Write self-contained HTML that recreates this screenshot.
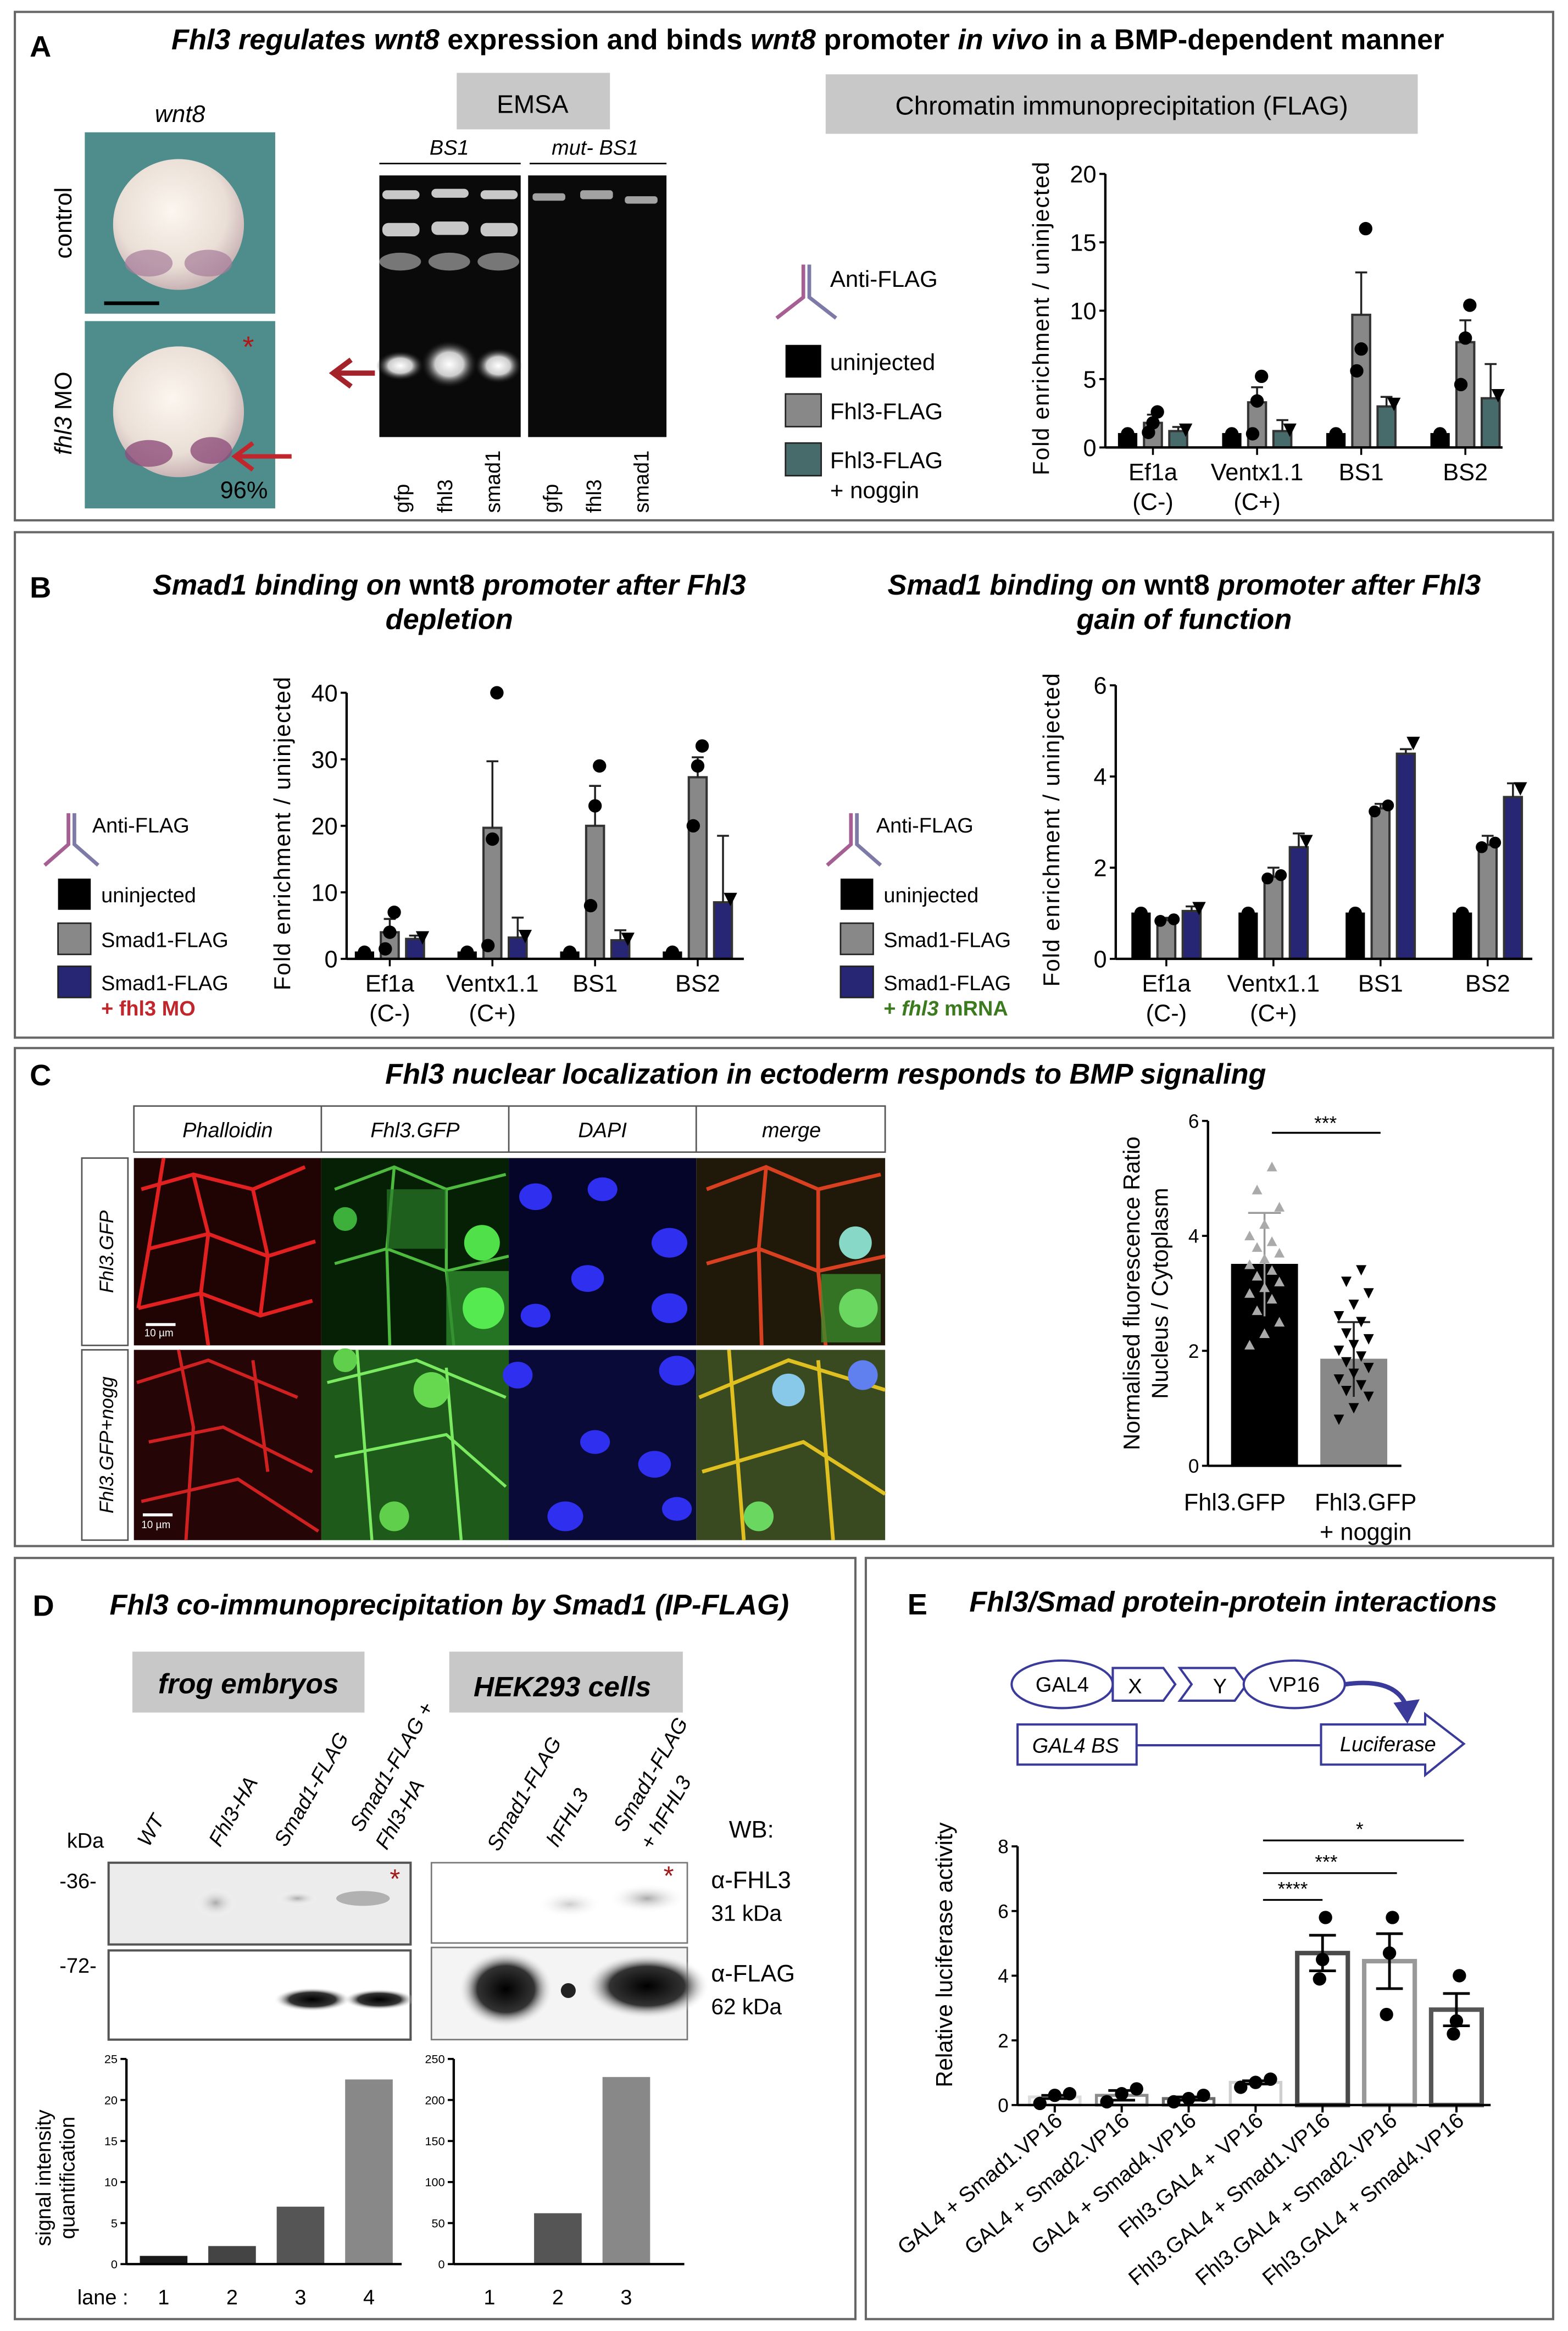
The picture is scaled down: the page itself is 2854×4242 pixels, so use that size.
<!DOCTYPE html>
<html><head><meta charset="utf-8"><style>
html,body{margin:0;padding:0;background:#fff}
svg{display:block;font-family:"Liberation Sans",sans-serif}
</style></head><body>
<svg id="fig" xmlns="http://www.w3.org/2000/svg" width="2854" height="4242" viewBox="0 0 1054 1568" preserveAspectRatio="none">
<defs>
<radialGradient id="egg" cx="0.45" cy="0.4" r="0.6"><stop offset="0" stop-color="#fbf6ef"/><stop offset="0.7" stop-color="#eadfd6"/><stop offset="1" stop-color="#c9b3b5"/></radialGradient>
<radialGradient id="gband"><stop offset="0" stop-color="#fff"/><stop offset="0.5" stop-color="#ccc"/><stop offset="1" stop-color="#111" stop-opacity="0"/></radialGradient>
<radialGradient id="dband"><stop offset="0" stop-color="#000"/><stop offset="0.6" stop-color="#333"/><stop offset="1" stop-color="#fff" stop-opacity="0"/></radialGradient>
<radialGradient id="lband"><stop offset="0" stop-color="#aaa"/><stop offset="1" stop-color="#fff" stop-opacity="0"/></radialGradient>
</defs>

<!-- Panel boxes -->
<rect x="10" y="8" width="1034" height="342" fill="none" stroke="#666" stroke-width="1.5"/>
<rect x="10" y="358" width="1034" height="340" fill="none" stroke="#666" stroke-width="1.5"/>
<rect x="10" y="705" width="1034" height="335" fill="none" stroke="#666" stroke-width="1.5"/>
<rect x="10" y="1048" width="565" height="512" fill="none" stroke="#666" stroke-width="1.5"/>
<rect x="582" y="1048" width="462" height="512" fill="none" stroke="#666" stroke-width="1.5"/>

<!-- Panel A -->
<text x="20" y="38" font-size="20" font-weight="bold">A</text>
<text x="543" y="33" font-size="19.3" font-weight="bold" text-anchor="middle"><tspan font-style="italic">Fhl3 regulates wnt8</tspan> expression and binds <tspan font-style="italic">wnt8</tspan> promoter <tspan font-style="italic">in vivo</tspan> in a BMP-dependent manner</text>
<text x="121" y="82" font-size="16" font-style="italic" text-anchor="middle">wnt8</text>
<g>
<rect x="57" y="89" width="128" height="122" fill="#4e8d8c"/>
<circle cx="120" cy="151" r="44" fill="url(#egg)"/>
<ellipse cx="100" cy="177" rx="16" ry="9" fill="#a77c9a" opacity="0.7"/><ellipse cx="140" cy="177" rx="16" ry="9" fill="#a77c9a" opacity="0.7"/>
<line x1="70" y1="204" x2="107" y2="204" stroke="#000" stroke-width="2.5"/>
</g>
<g>
<rect x="57" y="216" width="128" height="126" fill="#4e8d8c"/>
<circle cx="120" cy="277" r="44" fill="url(#egg)"/>
<ellipse cx="100" cy="305" rx="16" ry="9" fill="#8e4f7c" opacity="0.8"/><ellipse cx="142" cy="303" rx="14" ry="9" fill="#8e4f7c" opacity="0.8"/>
<text x="163" y="240" font-size="20" fill="#b01818">*</text>
<path d="M196 307 L160 307 M170 298 L158 307 L170 316" stroke="#c0262c" stroke-width="3" fill="none"/>
<text x="180" y="335" font-size="16" text-anchor="end">96%</text>
</g>
<text transform="translate(48,150) rotate(-90)" font-size="16" text-anchor="middle">control</text>
<text transform="translate(48,278) rotate(-90)" font-size="16" text-anchor="middle"><tspan font-style="italic">fhl3</tspan> MO</text>

<rect x="307" y="49" width="103" height="38" fill="#c8c8c8"/>
<text x="358" y="76" font-size="17" text-anchor="middle">EMSA</text>
<text x="302" y="104" font-size="14" font-style="italic" text-anchor="middle">BS1</text>
<text x="400" y="104" font-size="14" font-style="italic" text-anchor="middle">mut- BS1</text>
<line x1="255" y1="110" x2="350" y2="110" stroke="#000"/><line x1="356" y1="110" x2="448" y2="110" stroke="#000"/>
<g>
<rect x="255" y="118" width="95" height="176" fill="#0a0a0a"/><rect x="355" y="118" width="93" height="176" fill="#0a0a0a"/>
<g fill="#ddd" opacity="0.9">
<rect x="257" y="128" width="25" height="6" rx="3"/><rect x="290" y="127" width="25" height="6" rx="3"/><rect x="323" y="128" width="25" height="6" rx="3"/>
<rect x="257" y="150" width="25" height="9" rx="4"/><rect x="290" y="149" width="25" height="9" rx="4"/><rect x="323" y="150" width="25" height="9" rx="4"/>
<rect x="358" y="130" width="22" height="5" rx="2" opacity="0.8"/><rect x="390" y="128" width="22" height="6" rx="2" opacity="0.8"/><rect x="420" y="132" width="22" height="5" rx="2" opacity="0.8"/>
</g>
<ellipse cx="269" cy="176" rx="14" ry="6" fill="#777"/><ellipse cx="302" cy="176" rx="14" ry="6" fill="#777"/><ellipse cx="335" cy="176" rx="14" ry="6" fill="#777"/>
<ellipse cx="269" cy="246" rx="16" ry="10" fill="url(#gband)"/><ellipse cx="302" cy="245" rx="19" ry="16" fill="url(#gband)"/><ellipse cx="335" cy="246" rx="16" ry="12" fill="url(#gband)"/>
</g>
<path d="M252 251 L226 251 M236 242 L224 251 L236 260" stroke="#a4222a" stroke-width="3.5" fill="none"/>
<g font-size="14">
<text transform="translate(275,345) rotate(-90)">gfp</text><text transform="translate(304,345) rotate(-90)">fhl3</text><text transform="translate(336,345) rotate(-90)">smad1</text>
<text transform="translate(375,345) rotate(-90)">gfp</text><text transform="translate(404,345) rotate(-90)">fhl3</text><text transform="translate(436,345) rotate(-90)">smad1</text>
</g>
<rect x="555" y="50" width="398" height="40" fill="#c8c8c8"/>
<text x="754" y="77" font-size="17.5" text-anchor="middle">Chromatin immunoprecipitation (FLAG)</text>

<g>
<g stroke-width="2.5" fill="none"><path d="M540 178 L540 200 L522 214" stroke="#a65f93"/><path d="M544 178 L544 200 L562 214" stroke="#7e7aa8"/></g>
<text x="558" y="193" font-size="15.5">Anti-FLAG</text>
<rect x="528" y="232" width="24" height="22" fill="#000"/><text x="558" y="249" font-size="15.5">uninjected</text>
<rect x="528" y="265" width="24" height="22" fill="#888" stroke="#222"/><text x="558" y="282" font-size="15.5">Fhl3-FLAG</text>
<rect x="528" y="298" width="24" height="22" fill="#476b6b" stroke="#222"/><text x="558" y="315" font-size="15.5">Fhl3-FLAG</text><text x="558" y="335" font-size="15.5">+ noggin</text>
</g>
<g id="chartA"></g>

<!-- Panel B -->
<text x="20" y="402" font-size="20" font-weight="bold">B</text>
<text x="302" y="400" font-size="19.3" font-weight="bold" font-style="italic" text-anchor="middle">Smad1 binding on <tspan font-style="normal">wnt8</tspan> promoter after Fhl3</text>
<text x="302" y="423" font-size="19.3" font-weight="bold" font-style="italic" text-anchor="middle">depletion</text>
<text x="796" y="400" font-size="19.3" font-weight="bold" font-style="italic" text-anchor="middle">Smad1 binding on <tspan font-style="normal">wnt8</tspan> promoter after Fhl3</text>
<text x="796" y="423" font-size="19.3" font-weight="bold" font-style="italic" text-anchor="middle">gain of function</text>
<g>
<g stroke-width="2.5" fill="none"><path d="M46 547 L46 568 L30 582" stroke="#a65f93"/><path d="M50 547 L50 568 L66 582" stroke="#7e7aa8"/></g>
<text x="62" y="560" font-size="14">Anti-FLAG</text>
<rect x="39" y="591" width="22" height="21" fill="#000"/><text x="68" y="607" font-size="14">uninjected</text>
<rect x="39" y="621" width="22" height="21" fill="#888" stroke="#222"/><text x="68" y="637" font-size="14">Smad1-FLAG</text>
<rect x="39" y="650" width="22" height="21" fill="#262674" stroke="#222"/><text x="68" y="666" font-size="14">Smad1-FLAG</text>
<text x="68" y="683" font-size="14" font-weight="bold" fill="#c0262c">+ fhl3 MO</text>
</g>
<g>
<g stroke-width="2.5" fill="none"><path d="M572 547 L572 568 L556 582" stroke="#a65f93"/><path d="M576 547 L576 568 L592 582" stroke="#7e7aa8"/></g>
<text x="589" y="560" font-size="14">Anti-FLAG</text>
<rect x="565" y="591" width="22" height="21" fill="#000"/><text x="594" y="607" font-size="14">uninjected</text>
<rect x="565" y="621" width="22" height="21" fill="#888" stroke="#222"/><text x="594" y="637" font-size="14">Smad1-FLAG</text>
<rect x="565" y="650" width="22" height="21" fill="#262674" stroke="#222"/><text x="594" y="666" font-size="14">Smad1-FLAG</text>
<text x="594" y="683" font-size="14" font-weight="bold" fill="#3b7a1e">+ <tspan font-style="italic">fhl3</tspan> mRNA</text>
</g>
<g id="chartB1"></g>
<g id="chartB2"></g>

<!-- Panel C -->
<text x="20" y="730" font-size="20" font-weight="bold">C</text>
<text x="555" y="729" font-size="19.3" font-weight="bold" font-style="italic" text-anchor="middle">Fhl3 nuclear localization in ectoderm responds to BMP signaling</text>
<g font-size="14" font-style="italic" text-anchor="middle">
<rect x="90" y="744" width="505" height="31" fill="#fff" stroke="#555"/>
<line x1="216" y1="744" x2="216" y2="775" stroke="#555"/><line x1="342" y1="744" x2="342" y2="775" stroke="#555"/><line x1="468" y1="744" x2="468" y2="775" stroke="#555"/>
<text x="153" y="765">Phalloidin</text><text x="279" y="765">Fhl3.GFP</text><text x="405" y="765">DAPI</text><text x="532" y="765">merge</text>
</g>
<g font-size="13" font-style="italic" text-anchor="middle">
<rect x="55" y="779" width="31" height="126" fill="#fff" stroke="#555"/><text transform="translate(76,842) rotate(-90)">Fhl3.GFP</text>
<rect x="55" y="908" width="31" height="128" fill="#fff" stroke="#555"/><text transform="translate(76,972) rotate(-90)">Fhl3.GFP+nogg</text>
</g>
<g id="micro">
<rect x="90" y="779" width="126" height="126" fill="#200404"/>
<path d="M95 800 L130 790 L170 800 L205 785 M100 840 L140 830 L180 845 L212 835 M93 880 L135 870 L175 885 L210 875 M130 790 L140 830 L135 870 L140 905 M170 800 L180 845 L175 885 M110 779 L100 840 L93 880" stroke="#e22020" stroke-width="2.5" fill="none"/>
<rect x="216" y="779" width="126" height="126" fill="#062006"/>
<path d="M225 800 L265 785 L300 800 L340 790 M225 850 L260 840 L300 855 L342 845 M265 785 L260 840 L262 905 M300 800 L300 855 L305 905" stroke="#4dbb3d" stroke-width="2" fill="none"/>
<rect x="260" y="800" width="40" height="40" fill="#2b7a2a" opacity="0.7"/><rect x="300" y="855" width="42" height="50" fill="#2d8a2c" opacity="0.8"/>
<circle cx="324" cy="836" r="12" fill="#4fe04a"/><circle cx="325" cy="880" r="14" fill="#55ea50"/><circle cx="232" cy="820" r="8" fill="#3cb03a"/>
<rect x="342" y="779" width="126" height="126" fill="#05052a"/>
<g fill="#2f2ff0"><ellipse cx="360" cy="805" rx="11" ry="9"/><ellipse cx="450" cy="836" rx="12" ry="10"/><ellipse cx="405" cy="800" rx="10" ry="8"/><ellipse cx="395" cy="860" rx="11" ry="9"/><ellipse cx="450" cy="880" rx="12" ry="10"/><ellipse cx="360" cy="885" rx="10" ry="8"/></g>
<rect x="468" y="779" width="127" height="126" fill="#201808"/>
<path d="M475 800 L515 785 L550 800 L592 790 M475 850 L510 840 L550 855 L595 845 M515 785 L510 840 L512 905 M550 800 L550 855 L555 905" stroke="#d84020" stroke-width="2.5" fill="none"/>
<rect x="552" y="857" width="40" height="46" fill="#3a8a2c" opacity="0.8"/><circle cx="575" cy="836" r="11" fill="#88d8c8"/><circle cx="577" cy="880" r="13" fill="#6ad860"/>
<rect x="90" y="908" width="126" height="128" fill="#250505"/>
<path d="M92 930 L140 915 L200 940 M100 970 L150 960 L210 990 M95 1010 L160 995 L214 1030 M120 908 L130 960 L125 1036 M170 915 L180 990" stroke="#d02020" stroke-width="2.2" fill="none"/>
<rect x="216" y="908" width="126" height="128" fill="#1e5a1a"/>
<path d="M220 930 L280 915 L340 940 M225 980 L300 965 L340 1000 M240 908 L250 1036 M300 920 L310 1036" stroke="#7aea60" stroke-width="2" fill="none"/>
<circle cx="290" cy="935" r="12" fill="#66d850"/><circle cx="265" cy="1020" r="10" fill="#60d04c"/><circle cx="232" cy="915" r="8" fill="#60d04c"/>
<rect x="342" y="908" width="126" height="128" fill="#0a0a38"/>
<g fill="#2f2ff0"><ellipse cx="348" cy="925" rx="10" ry="9"/><ellipse cx="455" cy="922" rx="12" ry="10"/><ellipse cx="400" cy="970" rx="10" ry="8"/><ellipse cx="440" cy="985" rx="11" ry="9"/><ellipse cx="380" cy="1020" rx="12" ry="10"/><ellipse cx="455" cy="1015" rx="10" ry="8"/></g>
<rect x="468" y="908" width="127" height="128" fill="#3a4a20"/>
<path d="M470 940 L530 915 L595 935 M472 990 L540 970 L595 1005 M490 908 L500 1036 M550 915 L560 1036" stroke="#e0c020" stroke-width="2.5" fill="none"/>
<circle cx="530" cy="935" r="11" fill="#88c8e8"/><circle cx="580" cy="925" r="10" fill="#6080f0"/><circle cx="510" cy="1020" r="10" fill="#6ad860"/>
<g fill="#fff" font-size="7"><rect x="98" y="890" width="20" height="2"/><text x="97" y="899">10 µm</text><rect x="96" y="1018" width="20" height="2"/><text x="95" y="1028">10 µm</text></g>
</g>
<g id="chartC"></g>

<!-- Panel D -->
<text x="22" y="1087" font-size="20" font-weight="bold">D</text>
<text x="302" y="1086" font-size="19.3" font-weight="bold" font-style="italic" text-anchor="middle">Fhl3 co-immunoprecipitation by Smad1 (IP-FLAG)</text>
<rect x="89" y="1111" width="156" height="41" fill="#c8c8c8"/>
<text x="167" y="1139" font-size="19" font-weight="bold" font-style="italic" text-anchor="middle">frog embryos</text>
<rect x="302" y="1111" width="157" height="41" fill="#c8c8c8"/>
<text x="378" y="1141" font-size="19" font-weight="bold" font-style="italic" text-anchor="middle">HEK293 cells</text>
<g font-size="14" font-style="italic">
<text transform="translate(100,1243) rotate(-60)">WT</text>
<text transform="translate(148,1243) rotate(-60)">Fhl3-HA</text>
<text transform="translate(192,1243) rotate(-60)">Smad1-FLAG</text>
<text transform="translate(243,1233) rotate(-60)">Smad1-FLAG +</text>
<text transform="translate(260,1245) rotate(-60)">Fhl3-HA</text>
<text transform="translate(335,1246) rotate(-60)">Smad1-FLAG</text>
<text transform="translate(375,1243) rotate(-60)">hFHL3</text>
<text transform="translate(420,1233) rotate(-60)">Smad1-FLAG</text>
<text transform="translate(438,1245) rotate(-60)">+ hFHL3</text>
</g>
<text x="45" y="1243" font-size="14">kDa</text>
<text x="40" y="1270" font-size="14">-36-</text>
<text x="40" y="1327" font-size="14">-72-</text>
<text x="490" y="1236" font-size="16">WB:</text>
<text x="478" y="1270" font-size="16">α-FHL3</text>
<text x="478" y="1292" font-size="15">31 kDa</text>
<text x="478" y="1333" font-size="16">α-FLAG</text>
<text x="478" y="1355" font-size="15">62 kDa</text>
<g>
<rect x="73" y="1253" width="203" height="55" fill="#ececec" stroke="#555" stroke-width="1.5"/>
<ellipse cx="145" cy="1280" rx="14" ry="10" fill="url(#lband)"/><ellipse cx="200" cy="1277" rx="14" ry="5" fill="url(#lband)"/><ellipse cx="244" cy="1277" rx="18" ry="5" fill="#999" opacity="0.7"/>
<text x="262" y="1270" font-size="18" fill="#a01818">*</text>
<rect x="73" y="1312" width="203" height="60" fill="#fff" stroke="#555" stroke-width="1.5"/>
<ellipse cx="210" cy="1345" rx="26" ry="8" fill="url(#dband)"/><ellipse cx="255" cy="1345" rx="24" ry="7" fill="url(#dband)"/>
<rect x="290" y="1253" width="172" height="54" fill="#fff" stroke="#777"/>
<ellipse cx="383" cy="1281" rx="22" ry="9" fill="url(#lband)" opacity="0.6"/><ellipse cx="435" cy="1277" rx="26" ry="10" fill="url(#lband)"/>
<text x="446" y="1268" font-size="18" fill="#a01818">*</text>
<rect x="290" y="1310" width="172" height="62" fill="#f4f4f4" stroke="#777"/>
<ellipse cx="340" cy="1338" rx="32" ry="26" fill="url(#dband)"/><ellipse cx="435" cy="1336" rx="42" ry="22" fill="url(#dband)"/><circle cx="382" cy="1339" r="5" fill="#222"/>
</g>
<g id="chartD1"></g>
<g id="chartD2"></g>
<text transform="translate(34,1465) rotate(-90)" font-size="14" text-anchor="middle">signal intensity</text>
<text transform="translate(50,1465) rotate(-90)" font-size="14" text-anchor="middle">quantification</text>
<text x="52" y="1550" font-size="14">lane :</text>

<!-- Panel E -->
<text x="610" y="1086" font-size="20" font-weight="bold">E</text>
<text x="829" y="1084" font-size="19.3" font-weight="bold" font-style="italic" text-anchor="middle">Fhl3/Smad protein-protein interactions</text>
<g stroke="#3a3a9a" stroke-width="1.5" fill="#fff">
<ellipse cx="714" cy="1133" rx="34" ry="16"/><path d="M748 1122 L782 1122 L790 1133 L782 1144 L748 1144 Z"/>
<path d="M793 1122 L830 1122 L838 1133 L830 1144 L793 1144 L801 1133 Z"/><ellipse cx="870" cy="1133" rx="34" ry="16"/>
<path d="M904 1133 Q940 1128 946 1150" stroke-width="3" fill="none"/><path d="M938 1146 L946 1158 L953 1144 Z" fill="#3a3a9a"/>
<rect x="684" y="1160" width="80" height="27"/><line x1="764" y1="1174" x2="888" y2="1174"/>
<path d="M888 1160 L958 1160 L958 1153 L984 1173 L958 1194 L958 1187 L888 1187 Z"/>
</g>
<g font-size="14">
<text x="714" y="1138" text-anchor="middle">GAL4</text><text x="763" y="1139" text-anchor="middle">X</text>
<text x="820" y="1139" text-anchor="middle">Y</text><text x="870" y="1138" text-anchor="middle">VP16</text>
<text x="723" y="1179" text-anchor="middle" font-style="italic">GAL4 BS</text><text x="933" y="1178" text-anchor="middle" font-style="italic">Luciferase</text>
</g>
<g id="chartE"></g>
</svg>
<script>
// ---------- data ----------
const chipCategories = ["Ef1a", "Ventx1.1", "BS1", "BS2"];
const chipSubLabels = ["(C-)", "(C+)", "", ""];
const aUninjected = [1, 1, 1, 1];
const aFhl3Flag = [1.8, 3.3, 9.7, 7.7];
const aFhl3Noggin = [1.2, 1.2, 3.0, 3.6];
const aFhl3FlagErr = [0.6, 1.1, 3.1, 1.6];
const aNogginErr = [0.3, 0.8, 0.7, 2.5];
const aFhl3FlagPts = [[1.1, 1.8, 2.6], [1.0, 3.4, 5.2], [5.6, 7.2, 16.0], [4.6, 8.0, 10.4]];
const aTicks = [0, 5, 10, 15, 20];

const b1Uninjected = [1, 1, 1, 1];
const b1Smad1 = [4.0, 19.7, 20.0, 27.3];
const b1Smad1MO = [3.0, 3.2, 2.8, 8.5];
const b1Smad1Err = [2.0, 10.0, 6.0, 3.0];
const b1MOErr = [0.5, 3.0, 1.5, 10.0];
const b1Smad1Pts = [[1.5, 4.0, 7.0], [2.0, 18.0, 40.0], [8.0, 23.0, 29.0], [20.0, 29.0, 32.0]];
const b1Ticks = [0, 10, 20, 30, 40];

const b2Uninjected = [1, 1, 1, 1];
const b2Smad1 = [0.85, 1.8, 3.3, 2.5];
const b2Smad1Fhl3 = [1.05, 2.45, 4.5, 3.55];
const b2Smad1Err = [0.05, 0.2, 0.1, 0.2];
const b2Fhl3Err = [0.1, 0.3, 0.1, 0.3];
const b2Ticks = [0, 2, 4, 6];

const cCategories = ["Fhl3.GFP", "Fhl3.GFP + noggin"];
const cMeans = [3.5, 1.85];
const cSD = [0.9, 0.65];
const cPtsGFP = [2.1, 2.3, 2.5, 2.7, 2.9, 3.0, 3.1, 3.2, 3.3, 3.4, 3.5, 3.6, 3.7, 3.8, 3.9, 4.0, 4.2, 4.5, 4.8, 5.2];
const cPtsNog = [0.8, 1.0, 1.2, 1.3, 1.4, 1.5, 1.6, 1.7, 1.8, 1.9, 2.0, 2.1, 2.2, 2.3, 2.5, 2.6, 2.8, 3.0, 3.2, 3.4];
const cTicks = [0, 2, 4, 6];

const dFrogLanes = ["1", "2", "3", "4"];
const dFrogValues = [1, 2.2, 7, 22.5];
const dFrogTicks = [0, 5, 10, 15, 20, 25];
const dHekLanes = ["1", "2", "3"];
const dHekValues = [1, 62, 228];
const dHekTicks = [0, 50, 100, 150, 200, 250];

const eCategories = ["GAL4 + Smad1.VP16", "GAL4 + Smad2.VP16", "GAL4 + Smad4.VP16", "Fhl3.GAL4 + VP16", "Fhl3.GAL4 + Smad1.VP16", "Fhl3.GAL4 + Smad2.VP16", "Fhl3.GAL4 + Smad4.VP16"];
const eValues = [0.25, 0.3, 0.2, 0.7, 4.7, 4.45, 2.95];
const eErr = [0.05, 0.15, 0.05, 0.05, 0.55, 0.85, 0.5];
const ePts = [[0.05, 0.3, 0.35], [0.1, 0.35, 0.5], [0.1, 0.2, 0.3], [0.55, 0.7, 0.8], [3.9, 4.5, 5.8], [2.8, 4.7, 5.8], [2.2, 2.6, 4.0]];
const eTicks = [0, 2, 4, 6, 8];
const eColors = ["#dcdcdc", "#8c8c8c", "#6c6c6c", "#cfcfcf", "#4a4a4a", "#999", "#555"];

// ---------- helpers ----------
const NS = "http://www.w3.org/2000/svg";
function mk(parent, tag, attrs, txt) {
  const e = document.createElementNS(NS, tag);
  for (const k in attrs) e.setAttribute(k, attrs[k]);
  if (txt !== undefined) e.textContent = txt;
  parent.appendChild(e);
  return e;
}
function yScale(y0, y1, vmax) { return v => y0 - (v / vmax) * (y0 - y1); }
function axis(g, x, y0, y1, xEnd, ticks, ys, fs, fmt) {
  const a = mk(g, "line", {x1: x, y1: y0, x2: x, y2: y1, stroke: "#000", "stroke-width": 1.6});
  
  
  const b = mk(g, "line", {x1: x, y1: y0, x2: xEnd, y2: y0, stroke: "#000", "stroke-width": 1.6});
  
  
  ticks.forEach(t => {
    mk(g, "line", {x1: x - 4, y1: ys(t), x2: x, y2: ys(t), stroke: "#000", "stroke-width": 1.4});
    const tl = mk(g, "text", {x: x - 6, y: ys(t) + fs * 0.36, "font-size": fs, "text-anchor": "end"}, fmt ? fmt(t) : t);
    
    
  });
}
function bar(g, cx, w, v, ys, fill, stroke, sw, name) {
  const r = mk(g, "rect", {x: cx - w / 2, y: ys(v), width: w, height: ys(0) - ys(v), fill: fill, stroke: stroke, "stroke-width": sw});
  
  
  return r;
}
function err(g, cx, v, e, ys, w) {
  mk(g, "line", {x1: cx, y1: ys(v), x2: cx, y2: ys(v + e), stroke: "#222", "stroke-width": 1.3});
  mk(g, "line", {x1: cx - w, y1: ys(v + e), x2: cx + w, y2: ys(v + e), stroke: "#222", "stroke-width": 1.3});
}
function tri(g, cx, cy, s) {
  const t = mk(g, "path", {d: `M${cx - s} ${cy - s} L${cx + s} ${cy - s} L${cx} ${cy + s} Z`, fill: "#000"});
  
  
}
function dot(g, cx, cy, r, fill) {
  const c = mk(g, "circle", {cx: cx, cy: cy, r: r, fill: fill || "#000"});
  
  
}

// ---------- ChIP grouped charts ----------
function chip(id, o) {
  const g = document.getElementById(id);
  const ys = yScale(o.y0, o.y1, o.vmax);
  const xc = i => o.first + i * o.step;
  chipCategories.forEach((c, i) => {
    const cx = xc(i);
    bar(g, cx - o.off, o.bw, o.s1[i], ys, "#000", "#000", 1, "bar-uninjected-" + c);
    dot(g, cx - o.off, ys(o.s1[i]), 4.5);
    bar(g, cx, o.bw, o.s2[i], ys, "#888", "#333", 1.5, "bar-treatment-" + c);
    err(g, cx, o.s2[i], o.e2[i], ys, 4);
    if (o.p2) o.p2[i].forEach((p, j) => dot(g, cx + (j - 1) * 3, ys(p), 4.5));
    else { dot(g, cx - 4, ys(o.s2[i] * 0.98), 4); dot(g, cx + 5, ys(o.s2[i] * 1.02), 4); }
    bar(g, cx + o.off, o.bw, o.s3[i], ys, o.c3, "#333", 1.5, "bar-third-" + c);
    err(g, cx + o.off, o.s3[i], o.e3[i], ys, 4);
    tri(g, cx + o.off + 5, ys(o.s3[i] * 1.05), 4.5);
    mk(g, "line", {x1: cx, y1: o.y0, x2: cx, y2: o.y0 + 5, stroke: "#000", "stroke-width": 1.3});
    const l = mk(g, "text", {x: cx, y: o.y0 + 22, "font-size": o.fs, "text-anchor": "middle"}, c);
    
    
    if (chipSubLabels[i]) mk(g, "text", {x: cx, y: o.y0 + 42, "font-size": o.fs, "text-anchor": "middle"}, chipSubLabels[i]);
  });
  axis(g, o.ax, o.y0, o.y1, o.xEnd, o.ticks, ys, o.fs);
  const t = mk(g, "text", {transform: `translate(${o.ax - 38},${(o.y0 + o.y1) / 2 + 5}) rotate(-90)`, "font-size": 15.5, "text-anchor": "middle", "letter-spacing": 0.6}, "Fold enrichment / uninjected");
  
  
}
chip("chartA", {ax: 743, y0: 301, y1: 117, vmax: 20, ticks: aTicks, first: 775, step: 70, xEnd: 1010, bw: 12, off: 17, s1: aUninjected, s2: aFhl3Flag, s3: aFhl3Noggin, e2: aFhl3FlagErr, e3: aNogginErr, p2: aFhl3FlagPts, c3: "#476b6b", fs: 16});
chip("chartB1", {ax: 233, y0: 645, y1: 466, vmax: 40, ticks: b1Ticks, first: 262, step: 69, xEnd: 500, bw: 12, off: 17, s1: b1Uninjected, s2: b1Smad1, s3: b1Smad1MO, e2: b1Smad1Err, e3: b1MOErr, p2: b1Smad1Pts, c3: "#262674", fs: 16});
chip("chartB2", {ax: 750, y0: 645, y1: 461, vmax: 6, ticks: b2Ticks, first: 784, step: 72, xEnd: 1030, bw: 12, off: 17, s1: b2Uninjected, s2: b2Smad1, s3: b2Smad1Fhl3, e2: b2Smad1Err, e3: b2Fhl3Err, p2: null, c3: "#262674", fs: 16});

// ---------- Chart C ----------
(function () {
  const g = document.getElementById("chartC");
  const ys = yScale(986, 754, 6);
  const xc = i => 850 + i * 60;
  bar(g, xc(0), 44, cMeans[0], ys, "#000", "#000", 1, "bar-fhl3-gfp");
  bar(g, xc(1), 44, cMeans[1], ys, "#888", "#888", 1, "bar-fhl3-gfp-noggin");
  [0, 1].forEach(i => {
    mk(g, "line", {x1: xc(i), y1: ys(cMeans[i] - cSD[i]), x2: xc(i), y2: ys(cMeans[i] + cSD[i]), stroke: i ? "#222" : "#999", "stroke-width": 1.3});
    mk(g, "line", {x1: xc(i) - 11, y1: ys(cMeans[i] + cSD[i]), x2: xc(i) + 11, y2: ys(cMeans[i] + cSD[i]), stroke: i ? "#222" : "#999", "stroke-width": 1.3});
  });
  cPtsGFP.forEach((p, j) => {
    const cx = xc(0) + ((j * 7) % 5 - 2) * 5;
    const t = mk(g, "path", {d: `M${cx - 3.5} ${ys(p) + 3} L${cx + 3.5} ${ys(p) + 3} L${cx} ${ys(p) - 3.5} Z`, fill: "#aaa"});
    
    
  });
  cPtsNog.forEach((p, j) => { tri(g, xc(1) + ((j * 7) % 5 - 2) * 5, ys(p), 3.5); });
  axis(g, 812, 986, 754, 942, cTicks, ys, 13);
  mk(g, "line", {x1: 855, y1: 762, x2: 928, y2: 762, stroke: "#000", "stroke-width": 1.3});
  mk(g, "text", {x: 891, y: 760, "font-size": 13, "text-anchor": "middle"}, "***");
  mk(g, "text", {x: xc(0) - 20, y: 1016, "font-size": 16, "text-anchor": "middle"}, "Fhl3.GFP");
  mk(g, "text", {x: xc(1) + 8, y: 1016, "font-size": 16, "text-anchor": "middle"}, "Fhl3.GFP");
  mk(g, "text", {x: xc(1) + 8, y: 1036, "font-size": 16, "text-anchor": "middle"}, "+ noggin");
  const t1 = mk(g, "text", {transform: "translate(766,870) rotate(-90)", "font-size": 15.5, "text-anchor": "middle"}, "Normalised fluorescence Ratio");
  
  
  mk(g, "text", {transform: "translate(785,870) rotate(-90)", "font-size": 15.5, "text-anchor": "middle"}, "Nucleus / Cytoplasm");
})();

// ---------- Chart D ----------
function quant(id, ax, xEnd, first, step, lanes, vals, ticks, vmax, fills) {
  const g = document.getElementById(id);
  const ys = yScale(1523, 1385, vmax);
  lanes.forEach((l, i) => {
    const cx = first + i * step;
    bar(g, cx, 32, vals[i], ys, fills[i], "none", 0, "bar-lane-" + l);
    const t = mk(g, "text", {x: cx, y: 1550, "font-size": 14, "text-anchor": "middle"}, l);
    
    
  });
  axis(g, ax, 1523, 1385, xEnd, ticks, ys, 8);
}
quant("chartD1", 85, 270, 110, 46, dFrogLanes, dFrogValues, dFrogTicks, 25, ["#1a1a1a", "#444", "#555", "#888"]);
quant("chartD2", 305, 460, 329, 46, dHekLanes, dHekValues, dHekTicks, 250, ["#1a1a1a", "#555", "#888"]);

// ---------- Chart E ----------
(function () {
  const g = document.getElementById("chartE");
  const ys = yScale(1416, 1242, 8);
  const xc = i => 709 + i * 45;
  eCategories.forEach((c, i) => {
    const cx = xc(i);
    const sw = i < 4 ? 2 : 3;
    bar(g, cx, 34, eValues[i], ys, "#fff", eColors[i], sw, "bar-" + c.replace(/[^A-Za-z0-9]+/g, "-").toLowerCase());
    mk(g, "line", {x1: cx, y1: ys(eValues[i] - eErr[i]), x2: cx, y2: ys(eValues[i] + eErr[i]), stroke: "#000", "stroke-width": 1.8});
    mk(g, "line", {x1: cx - 9, y1: ys(eValues[i] + eErr[i]), x2: cx + 9, y2: ys(eValues[i] + eErr[i]), stroke: "#000", "stroke-width": 1.8});
    mk(g, "line", {x1: cx - 9, y1: ys(eValues[i] - eErr[i]), x2: cx + 9, y2: ys(eValues[i] - eErr[i]), stroke: "#000", "stroke-width": 1.8});
    ePts[i].forEach((p, j) => dot(g, cx + (j - 1) * 10 * (i < 4 ? 1 : 0.2), ys(p), 4.5));
    mk(g, "line", {x1: cx, y1: 1416, x2: cx, y2: 1421, stroke: "#000", "stroke-width": 1.5});
    const t = mk(g, "text", {transform: `translate(${cx + 6},1428) rotate(-40)`, "font-size": 14.5, "text-anchor": "end"}, c);
    
    
  });
  axis(g, 684, 1416, 1242, 1002, eTicks, ys, 13);
  const sig = [[4, 4, "****", 1278], [4, 5, "***", 1260], [4, 6, "*", 1238]];
  sig.forEach(s => {
    mk(g, "line", {x1: xc(s[0]) - 40, y1: s[3], x2: xc(s[1]) + (s[0] === s[1] ? 0 : 5), y2: s[3], stroke: "#000", "stroke-width": 1.2});
    mk(g, "text", {x: (xc(s[0]) - 40 + xc(s[1])) / 2, y: s[3] - 3, "font-size": 13, "text-anchor": "middle"}, s[2]);
  });
  const t = mk(g, "text", {transform: "translate(640,1315) rotate(-90)", "font-size": 15.5, "text-anchor": "middle"}, "Relative luciferase activity");
  
  
})();
</script>
</body></html>
